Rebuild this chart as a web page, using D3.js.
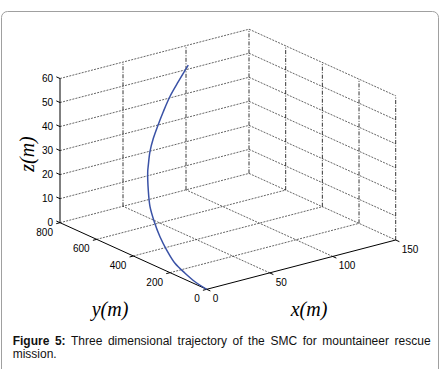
<!DOCTYPE html>
<html>
<head>
<meta charset="utf-8">
<script src="https://cdn.jsdelivr.net/npm/d3@7"></script>
<style>
  body { margin: 0; background: #fff; }
  svg { display: block; }
</style>
</head>
<body>
<svg id="chart" width="443" height="369"></svg>
<script>
// trajectory (x, y, z in metres)
const trajX = [0, 0.9, 3.2, 5.4, 9.0, 12.4, 16.6, 20.5, 26.4, 32.5, 35.9, 42.3, 50.8, 60.1, 69.6, 80.0, 91.0, 101.8];
const trajY = [0, 70, 140, 210, 280, 340, 400, 450, 500, 545, 565, 600, 640, 680, 715, 750, 780, 800];
const trajZ = [0, 0.6, 1.4, 2.8, 5.4, 8.4, 12.0, 16.0, 20.4, 25.5, 27.2, 30.7, 33.7, 36.2, 39.6, 43.3, 46.9, 51.6];

const xTicks = [0, 50, 100, 150];
const yTicks = [0, 200, 400, 600, 800];
const zTicks = [0, 10, 20, 30, 40, 50, 60];

const svg = d3.select('#chart');

// figure frame
svg.append('rect')
  .attr('x', 1.5).attr('y', 11.5)
  .attr('width', 437).attr('height', 372)
  .attr('rx', 6)
  .attr('fill', '#fff')
  .attr('stroke', '#a0a0a0')
  .attr('stroke-width', 1);

// axis scales -> unit cube
const xs = d3.scaleLinear().domain([0, 150]).range([0, 1]);
const ys = d3.scaleLinear().domain([0, 800]).range([0, 1]);
const zs = d3.scaleLinear().domain([0, 60]).range([0, 1]);

// orthographic view: screen vectors of the unit cube edges
const O = [206.7, 289.3];
const VX = [189, -49.3];
const VY = [-146.7, -66.6];
const VZ = [0, -144.2];

function project(x, y, z) {
  const u = xs(x), v = ys(y), w = zs(z);
  return [O[0] + u * VX[0] + v * VY[0] + w * VZ[0],
          O[1] + u * VX[1] + v * VY[1] + w * VZ[1]];
}

const line = d3.line();

function seg(g, a, b, cls) {
  g.append('path')
    .attr('class', cls)
    .attr('d', line([project(...a), project(...b)]));
}

const grid = svg.append('g').attr('fill', 'none');

// horizontal grid lines on the two back walls
zTicks.forEach(z => {
  seg(grid, [0, 800, z], [150, 800, z], 'flat');
  seg(grid, [150, 800, z], [150, 0, z], 'flat');
});
// vertical grid lines, back wall y=800
xTicks.slice(1).forEach(x => seg(grid, [x, 800, 0], [x, 800, 60], 'vert'));
// vertical grid lines, side wall x=150
yTicks.slice(0, -1).forEach(y => seg(grid, [150, y, 0], [150, y, 60], 'vert'));
// floor grid
xTicks.slice(1, -1).forEach(x => seg(grid, [x, 0, 0], [x, 800, 0], 'flat'));
yTicks.slice(1, -1).forEach(y => seg(grid, [0, y, 0], [150, y, 0], 'flat'));

grid.selectAll('path.flat')
  .attr('stroke', '#333')
  .attr('stroke-width', 0.75)
  .attr('stroke-dasharray', '2,1.2');
grid.selectAll('path.vert')
  .attr('stroke', '#000')
  .attr('stroke-width', 0.8)
  .attr('stroke-dasharray', '4,1.5,1,1.5');

// axes
const axes = svg.append('g').attr('stroke', '#000').attr('stroke-width', 1).attr('fill', 'none');
seg(axes, [0, 0, 0], [150, 0, 0], 'axis');
seg(axes, [0, 0, 0], [0, 800, 0], 'axis');
seg(axes, [0, 800, 0], [0, 800, 60], 'axis');

// ticks
xTicks.forEach(x => seg(axes, [x, 0, 0], [x, -20, 0], 'tick'));
yTicks.forEach(y => seg(axes, [0, y, 0], [-3, y, 0], 'tick'));
zTicks.forEach(z => seg(axes, [0, 800, z], [0, 820, z], 'tick'));

const labels = svg.append('g')
  .attr('font-family', 'Liberation Sans, Arial, sans-serif')
  .attr('font-size', 10)
  .attr('fill', '#000');

labels.selectAll('text.xt').data(xTicks).join('text')
  .attr('class', 'xt')
  .attr('x', d => project(d, 0, 0)[0] + 6)
  .attr('y', d => project(d, 0, 0)[1] + 13)
  .attr('text-anchor', 'start')
  .text(d => d);

labels.selectAll('text.yt').data(yTicks).join('text')
  .attr('class', 'yt')
  .attr('x', d => project(0, d, 0)[0] - 7)
  .attr('y', d => project(0, d, 0)[1] + 13)
  .attr('text-anchor', 'end')
  .text(d => d);

labels.selectAll('text.zt').data(zTicks).join('text')
  .attr('class', 'zt')
  .attr('x', d => project(0, 800, d)[0] - 7)
  .attr('y', d => project(0, 800, d)[1] + 3.5)
  .attr('text-anchor', 'end')
  .text(d => d);

// axis titles
const titles = svg.append('g')
  .attr('font-family', 'Liberation Serif, Times New Roman, serif')
  .attr('font-style', 'italic')
  .attr('font-size', 20)
  .attr('fill', '#000')
  .attr('text-anchor', 'middle');
titles.append('text').attr('x', 309).attr('y', 316).text('x(m)');
titles.append('text').attr('x', 110).attr('y', 316).text('y(m)');
titles.append('text').attr('transform', 'translate(34,154) rotate(-90)').text('z(m)');

// trajectory
const pts = trajX.map((x, i) => project(x, trajY[i], trajZ[i]));
svg.append('path')
  .attr('d', d3.line().curve(d3.curveCatmullRom)(pts))
  .attr('fill', 'none')
  .attr('stroke', '#3a52a6')
  .attr('stroke-width', 1.5);

// caption, first line justified
const cap = svg.append('g')
  .attr('font-family', 'Liberation Sans, Arial, sans-serif')
  .attr('font-size', 12)
  .attr('fill', '#111');
const capLines = ['Three dimensional trajectory of the SMC for mountaineer rescue', 'mission.'];
const t1 = cap.append('text').attr('x', 12.7).attr('y', 345);
t1.append('tspan').attr('font-weight', 'bold').text('Figure 5:');
t1.append('tspan').text(' ' + capLines[0]);
const natural = t1.node().getComputedTextLength();
const gaps = capLines[0].split(' ').length;
t1.attr('word-spacing', (415.6 - natural) / gaps);
cap.append('text').attr('x', 12.7).attr('y', 357.5).text(capLines[1]);
</script>
</body>
</html>
